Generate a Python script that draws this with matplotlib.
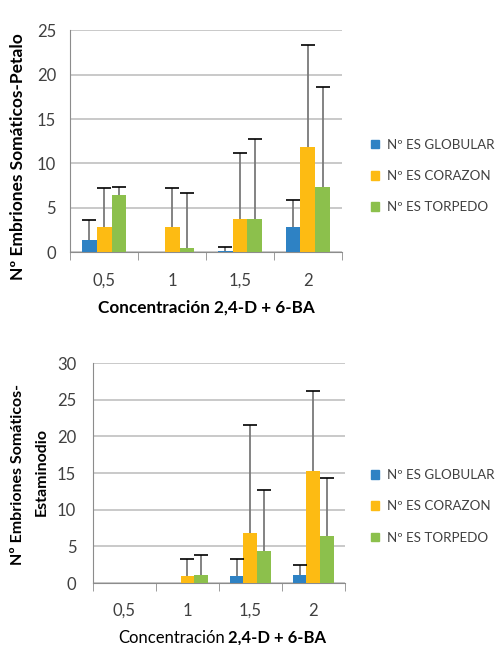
import numpy as np
import matplotlib.pyplot as plt
from matplotlib.patches import Patch

plt.rcParams['font.family'] = ['Lato', 'DejaVu Sans']

# Data
concentraciones = ['0,5', '1', '1,5', '2']
series = ['Nº ES GLOBULAR', 'Nº ES CORAZON', 'Nº ES TORPEDO']
colores = ['#2E82C4', '#FDBB13', '#8CC04C']

# Petalo: means and upper end of error bars
petalo_globular = [1.4, 0.0, 0.1, 2.8]
petalo_corazon = [2.8, 2.8, 3.7, 11.8]
petalo_torpedo = [6.4, 0.5, 3.7, 7.3]
petalo_globular_sup = [3.6, 0.0, 0.6, 5.9]
petalo_corazon_sup = [7.2, 7.2, 11.2, 23.3]
petalo_torpedo_sup = [7.3, 6.7, 12.8, 18.6]

# Estaminodio
estam_globular = [0.0, 0.0, 0.9, 1.1]
estam_corazon = [0.0, 0.9, 6.8, 15.3]
estam_torpedo = [0.0, 1.1, 4.4, 6.4]
estam_globular_sup = [0.0, 0.0, 3.3, 2.5]
estam_corazon_sup = [0.0, 3.3, 21.5, 26.2]
estam_torpedo_sup = [0.0, 3.8, 12.7, 14.3]


def draw_bars(ax, means, tops, ymax, ystep, ypad, xpad):
    x = np.arange(len(concentraciones))
    w = 0.22
    for i, (m, t) in enumerate(zip(means, tops)):
        m = np.array(m)
        t = np.array(t)
        xs = x + (i - 1) * w
        ax.bar(xs, m, width=w, color=colores[i], zorder=3)
        ok = t > m
        if ok.any():
            _, caps, bars = ax.errorbar(xs[ok], m[ok], yerr=[np.zeros(ok.sum()), (t - m)[ok]],
                                        fmt='none', ecolor='#7a7a7a', elinewidth=1.3,
                                        capsize=5, capthick=1.2, zorder=4)
            caps[0].set_visible(False)
            caps[1].set_markeredgecolor('black')
    ax.set_xlim(-0.5, len(concentraciones) - 0.5)
    ax.set_ylim(0, ymax)
    ax.set_yticks(np.arange(0, ymax + 1, ystep))
    ax.set_xticks(x)
    ax.set_xticklabels(concentraciones)
    ax.set_xticks(np.arange(-0.5, len(concentraciones)), minor=True)
    ax.tick_params(axis='x', which='major', length=0, pad=xpad, labelsize=12, colors='#404040')
    ax.tick_params(axis='x', which='minor', length=6, color='#8c8c8c')
    ax.tick_params(axis='y', length=0, pad=ypad, labelsize=12, colors='#404040')
    ax.grid(axis='y', color='#c0c0c0', lw=1.2, zorder=0)
    for s in ['top', 'right']:
        ax.spines[s].set_visible(False)
    ax.spines['left'].set_color('#8c8c8c')
    ax.spines['bottom'].set_color('#8c8c8c')


fig = plt.figure(figsize=(4.97, 6.45), dpi=100)

ax1 = fig.add_axes([0.141, 0.609, 0.547, 0.344])
draw_bars(ax1, [petalo_globular, petalo_corazon, petalo_torpedo],
          [petalo_globular_sup, petalo_corazon_sup, petalo_torpedo_sup], 25, 5, 10, 15)
fig.text(0.036, 0.757, 'Nº Embriones Somáticos-Petalo', rotation=90, ha='center', va='center',
         fontweight='bold', fontsize=12.5)
fig.text(0.4155, 0.524, 'Concentración 2,4-D + 6-BA', ha='center', va='center',
         fontweight='bold', fontsize=12.3)

ax2 = fig.add_axes([0.187, 0.096, 0.507, 0.341])
draw_bars(ax2, [estam_globular, estam_corazon, estam_torpedo],
          [estam_globular_sup, estam_corazon_sup, estam_torpedo_sup], 30, 5, 12, 14)
fig.text(0.036, 0.265, 'Nº Embriones Somáticos-', rotation=90, ha='center', va='center',
         fontweight='bold', fontsize=11.5)
fig.text(0.085, 0.268, 'Estaminodio', rotation=90, ha='center', va='center',
         fontweight='bold', fontsize=11.5)
fig.text(0.453, 0.011, 'Concentración', ha='right', va='center', fontsize=12)
fig.text(0.459, 0.011, '2,4-D + 6-BA', ha='left', va='center', fontsize=12, fontweight='bold')

handles = [Patch(color=c) for c in colores]
for y in [0.727, 0.215]:
    fig.legend(handles, series, loc='center left', bbox_to_anchor=(0.723, y), frameon=False,
               fontsize=9.6, handlelength=0.6, handleheight=0.6, handletextpad=0.55,
               labelspacing=1.45, labelcolor='#404040')

fig.savefig('out.png', dpi=100)
